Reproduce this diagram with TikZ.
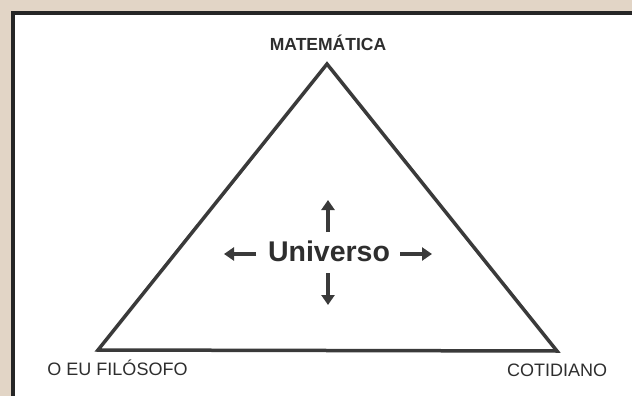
\documentclass[tikz,border=0pt]{standalone}
\usepackage{fontspec}
\setmainfont{Liberation Sans}
\usetikzlibrary{arrows.meta}
\definecolor{paper}{HTML}{E2D5C6}
\definecolor{ink}{HTML}{3A3A3A}
\definecolor{txt}{HTML}{2E2E2E}
\tikzset{
  lbl/.style={inner sep=0pt, text=txt, anchor=base},
  tri/.style={draw=ink, line width=3.5pt, line join=miter},
  arr/.style={draw=ink, line width=3.5pt, -{Triangle[length=10pt,width=13pt]}}
}
\begin{document}
\begin{tikzpicture}[x=1pt,y=-1pt]
\useasboundingbox (0,0) rectangle (632,396);
\fill[paper] (0,0) rectangle (632,396);
\draw[fill=white, draw=black!85, line width=3.5pt] (13,13) rectangle (650,420);
% triangle vertices
\coordinate (apex) at (327,64);
\coordinate (bl) at (98,350);
\coordinate (br) at (557,351);
\draw[tri] (apex) -- (bl) -- (br) -- cycle;
% labels
\node[lbl, font=\bfseries\fontsize{17.5}{20}\selectfont] (mat) at (328,51) {MATEMÁTICA};
\node[lbl, font=\fontsize{18}{21}\selectfont] (eu) at (117.5,375) {O EU FILÓSOFO};
\node[lbl, font=\fontsize{18}{21}\selectfont] (cot) at (557,376) {COTIDIANO};
\node[lbl, font=\bfseries\fontsize{28.5}{33}\selectfont] (uni) at (329,261) {Universo};
% arrows
\coordinate (l0) at (256,254); \coordinate (l1) at (224,254);
\coordinate (r0) at (400,254); \coordinate (r1) at (432,254);
\coordinate (u0) at (328,232); \coordinate (u1) at (328,200);
\coordinate (d0) at (328,273); \coordinate (d1) at (328,305);
\draw[arr] (l0) -- (l1);
\draw[arr] (r0) -- (r1);
\draw[arr] (u0) -- (u1);
\draw[arr] (d0) -- (d1);
\end{tikzpicture}
\end{document}
